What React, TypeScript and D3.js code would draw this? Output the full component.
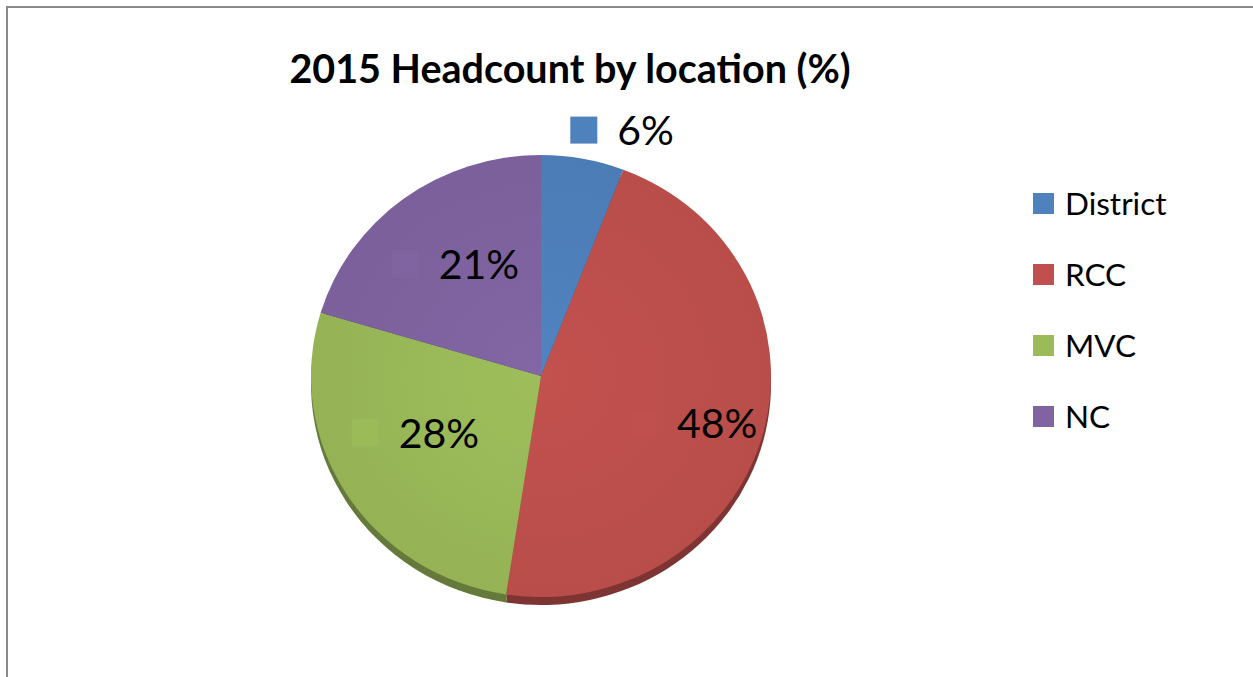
import React, { useEffect, useRef } from 'react';
import * as d3 from 'd3';

const categories = ['District', 'RCC', 'MVC', 'NC'];
const values = [6, 48, 28, 21];
const valueLabels = ['6%', '48%', '28%', '21%'];
const colors = ['#4F81BD', '#C0504D', '#9BBB59', '#8064A2'];
const title = '2015 Headcount by location (%)';

const App = () => {
  const svgRef = useRef<SVGSVGElement>(null);
  const svgWidth = 1253;
  const svgHeight = 677;
  const cx = 541;
  const cy = 376;
  const rx = 230;
  const ry = 221;
  const depth = 8;

  useEffect(() => {
    const svg = d3.select(svgRef.current);
    svg.selectAll('*').remove();

    const defs = svg.append('defs');
    colors.forEach((c, i) => {
      const g = defs.append('radialGradient')
        .attr('id', `shade${i}`)
        .attr('gradientUnits', 'userSpaceOnUse')
        .attr('cx', 0).attr('cy', 0).attr('r', rx);
      g.append('stop').attr('offset', '0%').attr('stop-color', d3.color(c)!.brighter(0.05).formatHex());
      g.append('stop').attr('offset', '100%').attr('stop-color', d3.color(c)!.darker(0.12).formatHex());
    });

    // frame
    svg.append('path')
      .attr('d', `M7,${svgHeight} L7,7 L${svgWidth},7`)
      .attr('fill', 'none')
      .attr('stroke', '#8a8a8a')
      .attr('stroke-width', 2);

    svg.append('text')
      .attr('x', 570)
      .attr('y', 83)
      .attr('text-anchor', 'middle')
      .attr('font-family', 'Lato, sans-serif')
      .attr('font-weight', 'bold')
      .attr('font-size', 39.5)
      .attr('fill', '#000')
      .text(title);

    const pie = d3.pie<number>().sort(null).value(d => d);
    const arcs = pie(values);
    const arc = d3.arc<d3.PieArcDatum<number>>().innerRadius(0).outerRadius(rx);
    const scaleY = ry / rx;

    // side of the 3d pie
    const side = svg.append('g')
      .attr('transform', `translate(${cx},${cy + depth}) scale(1,${scaleY})`);
    side.selectAll('path')
      .data(arcs)
      .enter().append('path')
      .attr('d', arc)
      .attr('fill', (d, i) => d3.color(colors[i])!.darker(1.2).formatHex());

    const top = svg.append('g')
      .attr('transform', `translate(${cx},${cy}) scale(1,${scaleY})`);
    top.selectAll('path')
      .data(arcs)
      .enter().append('path')
      .attr('d', arc)
      .attr('fill', (d, i) => `url(#shade${i})`);

    // data labels: r = fraction of radius along mid-angle, dx/dy = nudge
    const labelPos = [
      { r: 1.15, dx: 33, dy: 4 },
      { r: 0.7, dx: -3, dy: 8 },
      { r: 0.6, dx: -9, dy: -14 },
      { r: 0.63, dx: 1, dy: 0 },
    ];
    const markerSize = 27;
    const gap = 20;
    const fontSize = 41;

    arcs.forEach((d, i) => {
      const a = (d.startAngle + d.endAngle) / 2;
      const lx = cx + Math.sin(a) * rx * labelPos[i].r + labelPos[i].dx;
      const ly = cy - Math.cos(a) * ry * labelPos[i].r + labelPos[i].dy;
      const g = svg.append('g');
      const t = g.append('text')
        .attr('font-family', 'Lato, sans-serif')
        .attr('font-size', fontSize)
        .attr('fill', '#000')
        .text(valueLabels[i]);
      const tw = (t.node() as SVGTextElement).getComputedTextLength();
      const total = markerSize + gap + tw;
      const left = lx - total / 2;
      const capH = fontSize * 0.72;
      t.attr('x', left + markerSize + gap).attr('y', ly + capH / 2);
      g.insert('rect', 'text')
        .attr('x', left)
        .attr('y', ly - markerSize / 2)
        .attr('width', markerSize)
        .attr('height', markerSize)
        .attr('fill', colors[i]);
    });

    // legend
    const legend = svg.append('g').attr('transform', 'translate(1033,193)');
    const items = legend.selectAll('g')
      .data(categories)
      .enter().append('g')
      .attr('transform', (d, i) => `translate(0,${i * 71})`);
    items.append('rect')
      .attr('width', 21)
      .attr('height', 21)
      .attr('fill', (d, i) => colors[i]);
    items.append('text')
      .attr('x', 32)
      .attr('y', 22)
      .attr('font-family', 'Lato, sans-serif')
      .attr('font-size', 31.5)
      .attr('fill', '#000')
      .text(d => d);
  }, []);

  return (
    <svg
      ref={svgRef}
      width={svgWidth}
      height={svgHeight}
      style={{ position: 'absolute', left: 0, top: 0, background: '#fff' }}
    />
  );
};

export default App;
